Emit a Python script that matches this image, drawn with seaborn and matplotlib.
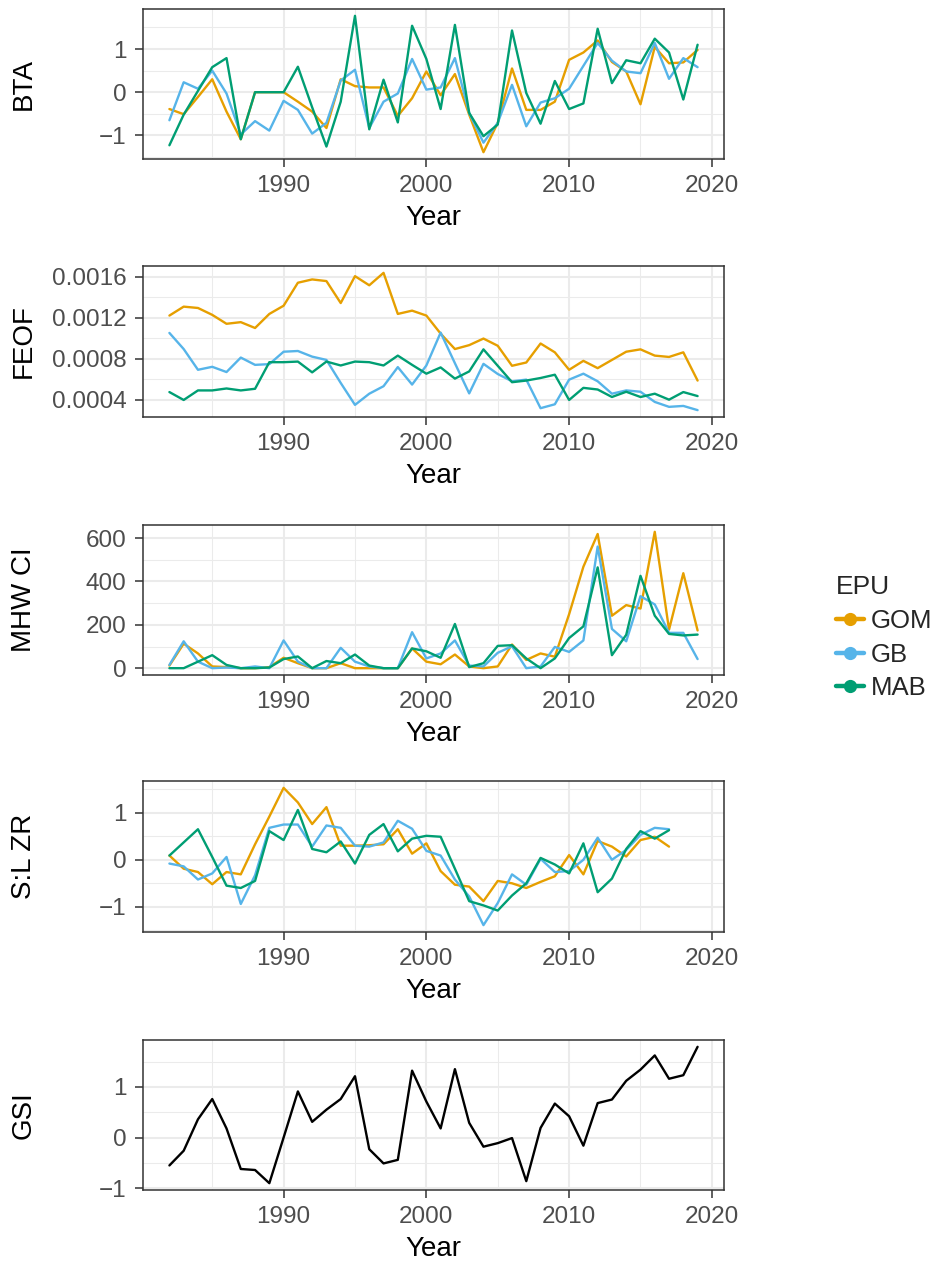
import numpy as np
import pandas as pd
import matplotlib
matplotlib.use("Agg")
import matplotlib.pyplot as plt
from matplotlib.lines import Line2D
from matplotlib.ticker import MultipleLocator, FuncFormatter
import seaborn as sns

# ---------------------------------------------------------------- data
years = list(range(1982, 2020))
sl_years = list(range(1982, 2018))
epus = ["GOM", "GB", "MAB"]
epu_colors = {"GOM": "#E69F00", "GB": "#56B4E9", "MAB": "#009E73"}

# bottom temperature anomaly
bta_gom = [-0.39, -0.51, -0.11, 0.30, -0.45, -1.09, 0.00, 0.00, 0.00, -0.22,
           -0.45, -0.83, 0.30, 0.14, 0.11, 0.11, -0.55, -0.14, 0.48, -0.07,
           0.42, -0.52, -1.39, -0.71, 0.55, -0.41, -0.41, -0.22, 0.75, 0.92,
           1.20, 0.70, 0.48, -0.28, 1.05, 0.67, 0.69, 0.98]
bta_gb = [-0.65, 0.23, 0.08, 0.50, -0.03, -0.98, -0.67, -0.89, -0.20, -0.41,
          -0.96, -0.71, 0.27, 0.52, -0.83, -0.22, -0.03, 0.77, 0.06, 0.11,
          0.79, -0.48, -1.17, -0.71, 0.17, -0.79, -0.24, -0.14, 0.08, 0.61,
          1.14, 0.73, 0.48, 0.44, 1.14, 0.31, 0.79, 0.58]
bta_mab = [-1.23, -0.52, 0.03, 0.58, 0.79, -1.09, 0.00, 0.00, 0.00, 0.59,
           -0.35, -1.26, -0.22, 1.77, -0.86, 0.29, -0.70, 1.54, 0.77, -0.39,
           1.56, -0.48, -1.02, -0.75, 1.43, -0.02, -0.73, 0.26, -0.39, -0.26,
           1.47, 0.21, 0.74, 0.67, 1.24, 0.92, -0.17, 1.10]

# first EOF
feof_gom = [0.001222, 0.001309, 0.001296, 0.001229, 0.001142, 0.001158, 0.001101, 0.001238, 0.001318, 0.001542,
            0.001574, 0.001558, 0.001344, 0.001606, 0.001517, 0.001638, 0.001238, 0.001270, 0.001222, 0.001046,
            0.000896, 0.000934, 0.000998, 0.000928, 0.000733, 0.000765, 0.000950, 0.000864, 0.000694, 0.000781,
            0.000710, 0.000790, 0.000870, 0.000893, 0.000832, 0.000819, 0.000864, 0.000589]
feof_gb = [0.001053, 0.000896, 0.000694, 0.000723, 0.000672, 0.000813, 0.000742, 0.000749, 0.000870, 0.000877,
           0.000822, 0.000790, 0.000566, 0.000352, 0.000461, 0.000534, 0.000720, 0.000550, 0.000736, 0.001056,
           0.000758, 0.000464, 0.000752, 0.000653, 0.000582, 0.000598, 0.000320, 0.000358, 0.000598, 0.000656,
           0.000582, 0.000461, 0.000493, 0.000480, 0.000381, 0.000333, 0.000342, 0.000301]
feof_mab = [0.000477, 0.000400, 0.000493, 0.000493, 0.000512, 0.000493, 0.000509, 0.000768, 0.000768, 0.000774,
            0.000669, 0.000774, 0.000736, 0.000774, 0.000768, 0.000736, 0.000832, 0.000742, 0.000656, 0.000717,
            0.000608, 0.000678, 0.000893, 0.000733, 0.000573, 0.000589, 0.000614, 0.000646, 0.000400, 0.000518,
            0.000502, 0.000429, 0.000480, 0.000429, 0.000461, 0.000403, 0.000477, 0.000438]

# marine heatwave cumulative intensity
mhw_gom = [12, 113, 68, 8, 5, 0, 0, 5, 48, 23,
           0, 0, 23, 0, 0, 0, 0, 91, 30, 18,
           63, 8, 0, 8, 109, 38, 68, 53, 249, 468,
           619, 242, 291, 275, 629, 178, 438, 174]
mhw_gb = [15, 124, 30, 0, 3, 0, 8, 0, 128, 30,
          0, 0, 94, 30, 8, 0, 0, 166, 45, 68,
          128, 12, 8, 71, 101, 0, 8, 98, 75, 128,
          561, 181, 124, 332, 294, 163, 163, 42]
mhw_mab = [0, 0, 30, 60, 15, 0, 0, 3, 42, 54,
           0, 33, 23, 63, 12, 0, 0, 91, 78, 48,
           204, 5, 23, 103, 106, 45, 0, 45, 139, 193,
           465, 60, 154, 426, 242, 158, 151, 155]

# small:large zooplankton ratio
slzr_gom = [0.09, -0.19, -0.26, -0.52, -0.26, -0.31, 0.33, 0.92, 1.53, 1.22,
            0.76, 1.12, 0.30, 0.30, 0.31, 0.33, 0.65, 0.13, 0.35, -0.24,
            -0.53, -0.57, -0.88, -0.45, -0.50, -0.60, -0.47, -0.35, 0.10, -0.31,
            0.40, 0.28, 0.07, 0.42, 0.49, 0.28]
slzr_gb = [-0.08, -0.14, -0.42, -0.29, 0.06, -0.94, -0.33, 0.68, 0.75, 0.75,
           0.28, 0.73, 0.68, 0.30, 0.28, 0.37, 0.83, 0.66, 0.19, 0.09,
           -0.42, -0.78, -1.39, -0.92, -0.31, -0.53, 0.02, -0.26, -0.24, 0.00,
           0.47, 0.00, 0.21, 0.53, 0.68, 0.65]
slzr_mab = [0.09, 0.37, 0.65, 0.06, -0.55, -0.60, -0.45, 0.61, 0.42, 1.06,
            0.23, 0.16, 0.39, -0.08, 0.53, 0.76, 0.18, 0.45, 0.51, 0.49,
            -0.19, -0.88, -0.97, -1.08, -0.76, -0.50, 0.04, -0.10, -0.29, 0.35,
            -0.69, -0.40, 0.23, 0.61, 0.45, 0.63]

# Gulf Stream index
gsi = [-0.55, -0.26, 0.36, 0.76, 0.18, -0.62, -0.64, -0.90, 0.00, 0.91,
       0.31, 0.55, 0.76, 1.21, -0.23, -0.51, -0.44, 1.32, 0.71, 0.18,
       1.35, 0.29, -0.18, -0.11, -0.01, -0.86, 0.19, 0.67, 0.42, -0.16,
       0.68, 0.75, 1.12, 1.34, 1.62, 1.16, 1.23, 1.79]


def long_frame(yrs, gom, gb, mab):
    return pd.DataFrame({
        "Year": list(yrs) * 3,
        "value": list(gom) + list(gb) + list(mab),
        "EPU": ["GOM"] * len(yrs) + ["GB"] * len(yrs) + ["MAB"] * len(yrs),
    })


panels = [
    ("BTA", long_frame(years, bta_gom, bta_gb, bta_mab), 1.0, 0.5, "int"),
    ("FEOF", long_frame(years, feof_gom, feof_gb, feof_mab), 0.0004, 0.0002, "feof"),
    ("MHW CI", long_frame(years, mhw_gom, mhw_gb, mhw_mab), 200, 100, "int"),
    ("S:L ZR", long_frame(sl_years, slzr_gom, slzr_gb, slzr_mab), 1.0, 0.5, "int"),
    ("GSI", pd.DataFrame({"Year": years, "value": gsi}), 1.0, 0.5, "int"),
]

# ---------------------------------------------------------------- style
sns.set_theme(style="white")
plt.rcParams["font.family"] = ["Liberation Sans", "DejaVu Sans"]
plt.rcParams["axes.unicode_minus"] = True

W, H = 935, 1264
fig = plt.figure(figsize=(W / 100, H / 100), dpi=100)
fig.patch.set_facecolor("white")

left_px, right_px = 143, 724
tops = [9, 266, 525, 781, 1040]
bottoms = [159, 417, 675, 932, 1190]

grid_col = "#EBEBEB"
frame_col = "#333333"
tick_txt = "#4D4D4D"
line_w = 1.7
xlim = (1982 - 0.05 * 37, 2019 + 0.05 * 37)


def fmt_int(v, pos):
    s = f"{v:g}"
    return s.replace("-", "\u2212")


def fmt_feof(v, pos):
    return f"{v:.4f}"


for (title, df, major, minor, fmt), top, bot in zip(panels, tops, bottoms):
    ax = fig.add_axes([left_px / W, 1 - bot / H, (right_px - left_px) / W, (bot - top) / H])
    if "EPU" in df:
        sns.lineplot(data=df, x="Year", y="value", hue="EPU", hue_order=epus,
                     palette=epu_colors, linewidth=line_w, legend=False,
                     estimator=None, errorbar=None, ax=ax)
    else:
        sns.lineplot(data=df, x="Year", y="value", color="black",
                     linewidth=line_w, estimator=None, errorbar=None, ax=ax)

    lo, hi = df["value"].min(), df["value"].max()
    pad = 0.05 * (hi - lo)
    ax.set_ylim(lo - pad, hi + pad)
    ax.set_xlim(*xlim)

    ax.xaxis.set_major_locator(MultipleLocator(10))
    ax.xaxis.set_minor_locator(MultipleLocator(5))
    ax.yaxis.set_major_locator(MultipleLocator(major))
    ax.yaxis.set_minor_locator(MultipleLocator(minor))
    ax.xaxis.set_major_formatter(FuncFormatter(lambda v, p: f"{v:.0f}"))
    ax.yaxis.set_major_formatter(FuncFormatter(fmt_feof if fmt == "feof" else fmt_int))

    ax.set_axisbelow(True)
    ax.grid(True, which="major", color=grid_col, linewidth=1.5)
    ax.grid(True, which="minor", color=grid_col, linewidth=0.75)
    for sp in ax.spines.values():
        sp.set_visible(True)
        sp.set_color(frame_col)
        sp.set_linewidth(1.1)

    ax.tick_params(which="major", length=5.8, width=1.1, color=frame_col,
                   labelsize=17.5, labelcolor=tick_txt, pad=6.0,
                   bottom=True, left=True)
    ax.tick_params(which="minor", length=0)

    ax.set_xlabel("Year", fontsize=20, color="black", labelpad=5.5)
    ax.set_ylabel(title, fontsize=20, color="black")
    ax.yaxis.set_label_coords((24 - left_px) / (right_px - left_px), 0.5)
    ax.yaxis.label.set_verticalalignment("center")

# ---------------------------------------------------------------- legend
handles = [Line2D([0], [0], color=epu_colors[e], linewidth=3.2, marker="o",
                  markersize=9.5, markeredgewidth=0) for e in epus]
leg = fig.legend(handles, epus, title="EPU", loc="upper left",
                 bbox_to_anchor=(818 / W, 1 - 557 / H), frameon=False,
                 fontsize=18.5, title_fontsize=19, handlelength=1.1,
                 handletextpad=0.25, labelspacing=0.38, borderpad=0.2,
                 alignment="left")

fig.savefig("out.png", dpi=100, facecolor="white")
